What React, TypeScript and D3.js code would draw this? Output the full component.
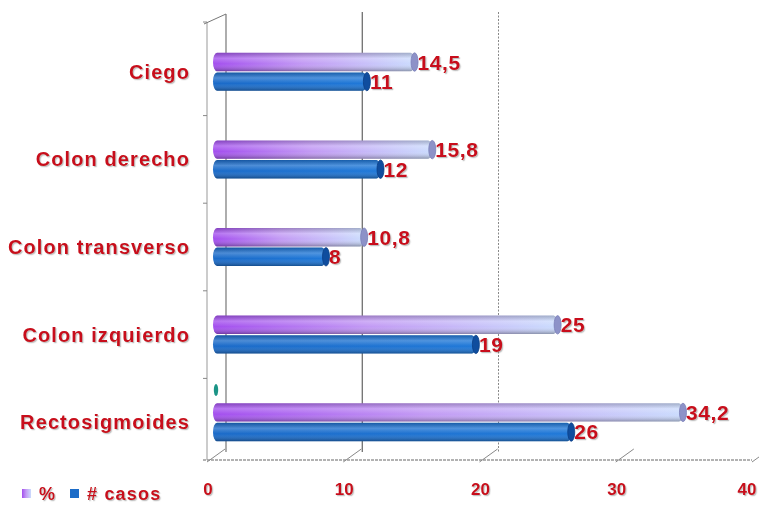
import React from 'react';
import * as d3 from 'd3';

const categories = ['Ciego', 'Colon derecho', 'Colon transverso', 'Colon izquierdo', 'Rectosigmoides'];
const pctValues = [14.5, 15.8, 10.8, 25, 34.2];
const casosValues = [11, 12, 8, 19, 26];
const pctLabels = ['14,5', '15,8', '10,8', '25', '34,2'];
const casosLabels = ['11', '12', '8', '19', '26'];
const seriesNames = ['%', '# casos'];
const xTicks = [0, 10, 20, 30, 40];

const W = 759;
const H = 506;
const RED = '#c8101a';
const FONT = '"Liberation Sans", Arial, sans-serif';

// oblique 3d offset from the front plane to the back wall
const DX = 19;
const DY = -8;

const App = () => {
  const xFront = d3.scaleLinear().domain([0, 40]).range([207, 752]);
  const xBar = d3.scaleLinear().domain([0, 40]).range([217, 762]);
  const y = d3.scaleBand().domain(categories).range([28, 466]);
  const ySub = d3.scaleBand().domain(seriesNames).range([-19, 19]).paddingInner(0.06);
  const bh = ySub.bandwidth();
  const floorY = 460;
  const topY = 22;

  const rows = categories.map((c, i) => ({
    cat: c,
    bars: [
      { s: '%', v: pctValues[i], label: pctLabels[i] },
      { s: '# casos', v: casosValues[i], label: casosLabels[i] },
    ],
  }));

  return (
    <svg width={W} height={H} style={{ position: 'absolute', left: 0, top: 0, background: '#fff' }}>
      <defs>
        <linearGradient id="pctFill" x1="0" x2="1" y1="0" y2="0">
          <stop offset="0" stopColor="#a34eee" />
          <stop offset="0.45" stopColor="#c29af4" />
          <stop offset="1" stopColor="#cbdcfd" />
        </linearGradient>
        <linearGradient id="casosFill" x1="0" x2="1" y1="0" y2="0">
          <stop offset="0" stopColor="#1a6ac8" />
          <stop offset="1" stopColor="#1f78d8" />
        </linearGradient>
        <linearGradient id="shade" x1="0" x2="0" y1="0" y2="1">
          <stop offset="0" stopColor="#000" stopOpacity="0.2" />
          <stop offset="0.3" stopColor="#fff" stopOpacity="0.22" />
          <stop offset="0.6" stopColor="#fff" stopOpacity="0" />
          <stop offset="1" stopColor="#000" stopOpacity="0.32" />
        </linearGradient>
        <filter id="tshadow" x="-5%" y="-20%" width="110%" height="150%">
          <feDropShadow dx="1.2" dy="1.2" stdDeviation="0.7" floodColor="#777" floodOpacity="0.45" />
        </filter>
      </defs>

      {/* walls */}
      <line x1={xFront(0)} x2={xFront(0)} y1={topY} y2={floorY} stroke="#999" strokeWidth={1} />
      <line x1={xFront(0) + DX} x2={xFront(0) + DX} y1={topY + DY} y2={floorY + DY} stroke="#777" strokeWidth={1.2} />
      <line x1={xFront(0) - 3} x2={xFront(0) + DX} y1={topY + 2} y2={topY + DY} stroke="#777" strokeWidth={1} />
      {y.domain().slice(1).map((c) => (
        <line key={c} x1={xFront(0) - 4} x2={xFront(0)} y1={y(c)} y2={y(c)} stroke="#888" />
      ))}
      <line x1={xFront(0) - 4} x2={xFront(0)} y1={topY} y2={topY} stroke="#888" />

      {/* back gridlines */}
      <line x1={xFront(10) + DX} x2={xFront(10) + DX} y1={12} y2={floorY + DY} stroke="#555" strokeWidth={1.1} />
      <line x1={xFront(20) + DX} x2={xFront(20) + DX} y1={12} y2={floorY + DY} stroke="#888" strokeWidth={1} strokeDasharray="2,1.5" />

      {/* floor axis */}
      <line x1={xFront(0) - 4} x2={xFront(40)} y1={floorY} y2={floorY} stroke="#999" strokeWidth={1.3} strokeDasharray="3,1" />
      {xTicks.map((t) => (
        <g key={t}>
          <line x1={xFront(t)} x2={xFront(t) + DX * 0.95} y1={floorY + 2} y2={floorY - 11} stroke="#888" strokeWidth={1} />
          <text x={Math.min(xFront(t) + 1, W - 12)} y={floorY + 35} fill={RED} fontFamily={FONT} fontWeight="bold" fontSize={17}
            textAnchor="middle" filter="url(#tshadow)">{t}</text>
        </g>
      ))}

      {/* small artifact near the axis */}
      <ellipse cx={216} cy={390} rx={2.2} ry={6} fill="#1b9486" />

      {/* bars */}
      {rows.map((r) => {
        const cy = (y(r.cat) as number) + y.bandwidth() / 2;
        return (
          <g key={r.cat}>
            <text x={190} y={cy + 7} textAnchor="end" fill={RED} fontFamily={FONT} fontWeight="bold"
              fontSize={20} letterSpacing={1.1} filter="url(#tshadow)">{r.cat}</text>
            {r.bars.map((b) => {
              const by = cy + (ySub(b.s) as number);
              const x0 = xBar(0) - 4;
              const x1 = xBar(b.v);
              const pct = b.s === '%';
              return (
                <g key={b.s}>
                  <rect x={x0} y={by} width={x1 - x0} height={bh} rx={4} ry={bh / 2}
                    fill={pct ? 'url(#pctFill)' : 'url(#casosFill)'} />
                  <rect x={x0} y={by} width={x1 - x0} height={bh} rx={4} ry={bh / 2} fill="url(#shade)" />
                  <ellipse cx={x1} cy={by + bh / 2} rx={3.5} ry={bh / 2}
                    fill={pct ? '#8d92c8' : '#0f4d9e'} stroke={pct ? '#7a7fb8' : '#0b3f86'} strokeWidth={0.8} />
                  <text x={x1 + 3} y={by + bh / 2 + 7.5} fill={RED} fontFamily={FONT} fontWeight="bold"
                    fontSize={21} letterSpacing={0.6} filter="url(#tshadow)">{b.label}</text>
                </g>
              );
            })}
          </g>
        );
      })}

      {/* legend */}
      <rect x={22} y={489} width={9} height={9} fill="url(#pctFill)" />
      <text x={39} y={500} fill={RED} fontFamily={FONT} fontWeight="bold" fontSize={18} filter="url(#tshadow)">%</text>
      <rect x={70} y={489} width={9} height={9} fill="#1c6cc8" />
      <text x={87} y={500} fill={RED} fontFamily={FONT} fontWeight="bold" fontSize={18} letterSpacing={1.2}
        filter="url(#tshadow)"># casos</text>
    </svg>
  );
};

export default App;
